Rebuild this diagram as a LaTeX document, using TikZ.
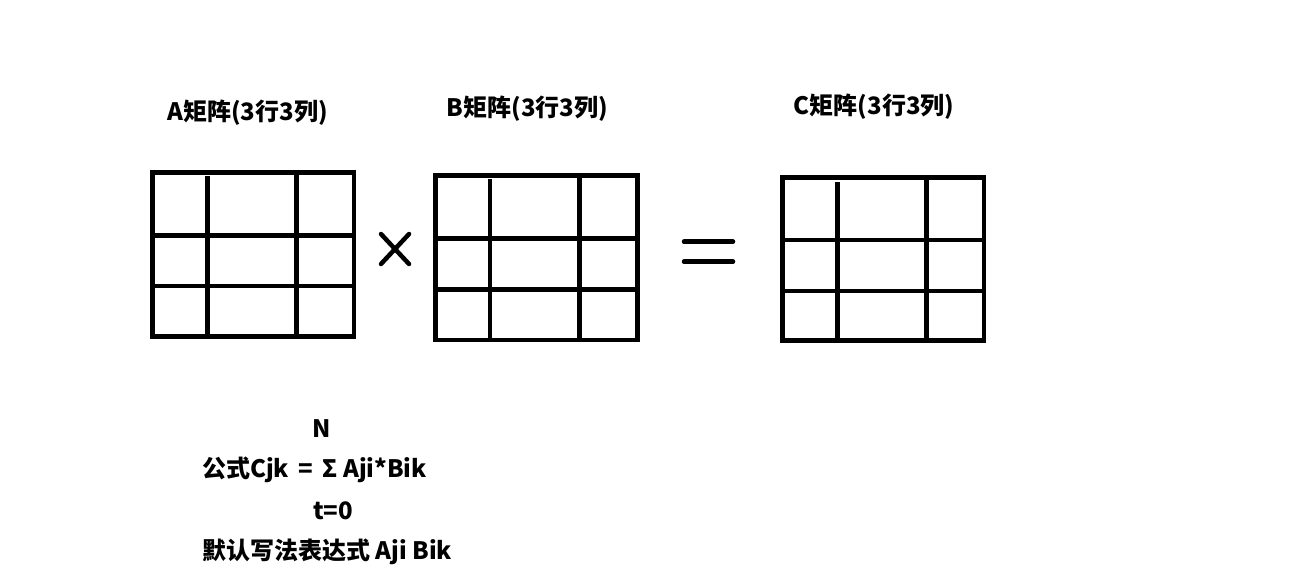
\documentclass[tikz,border=0pt]{standalone}
\usepackage{fontspec}
\setmainfont{Noto Sans CJK SC}

\begin{document}
\begin{tikzpicture}[x=1pt, y=-1pt, thick,
    gridline/.style={line width=4.5pt},
    signline/.style={line width=4.5pt, line cap=round},
    caption/.style={font=\fontsize{24}{28}\selectfont\bfseries}]

        \useasboundingbox (0,0) rectangle (1316,575);

        % titles
        \node[caption] at (247.5,113) (titleA) {A矩阵(3行3列)};
        \node[caption] at (527.5,109) (titleB) {B矩阵(3行3列)};
        \node[caption] at (874,107) (titleC) {C矩阵(3行3列)};

        % matrix A
        \draw[gridline] (152.7,172.7) rectangle (354,336.7);
        \draw[gridline] (207.3,176) -- (207.3,336.7);
        \draw[gridline] (296.7,172.7) -- (296.7,336.7);
        \draw[gridline] (152.7,235.7) -- (354,235.7);
        \draw[gridline] (152.7,286) -- (354,286);

        % times
        \draw[signline] (381,234) -- (409,264);
        \draw[signline] (381,264) -- (409,234);

        % matrix B
        \draw[gridline] (435.7,175.7) rectangle (637.7,340);
        \draw[gridline] (490,179) -- (490,340);
        \draw[gridline] (579.3,175.7) -- (579.3,340);
        \draw[gridline] (435.7,238.3) -- (637.7,238.3);
        \draw[gridline] (435.7,289.3) -- (637.7,289.3);

        % equals
        \draw[signline] (684,241.7) -- (733,241.7);
        \draw[signline] (684,261.7) -- (733,261.7);

        % matrix C
        \draw[gridline] (782.7,177.7) rectangle (984,340.7);
        \draw[gridline] (837.3,182) -- (837.3,340.7);
        \draw[gridline] (926.7,177.7) -- (926.7,340.7);
        \draw[gridline] (782.7,240) -- (984,240);
        \draw[gridline] (782.7,291) -- (984,291);

        % formula
        \node[caption] at (322,429) (upper) {N};
        \node[caption, anchor=west, inner sep=0pt] at (201.7,470) (formula) {公式Cjk \,=\, Σ Aji*Bik};
        \node[caption] at (333,511) (lower) {t=0};
        \node[caption, anchor=west, inner sep=0pt] at (201.7,552) (note) {默认写法表达式 Aji Bik};

    \end{tikzpicture}
\end{document}
